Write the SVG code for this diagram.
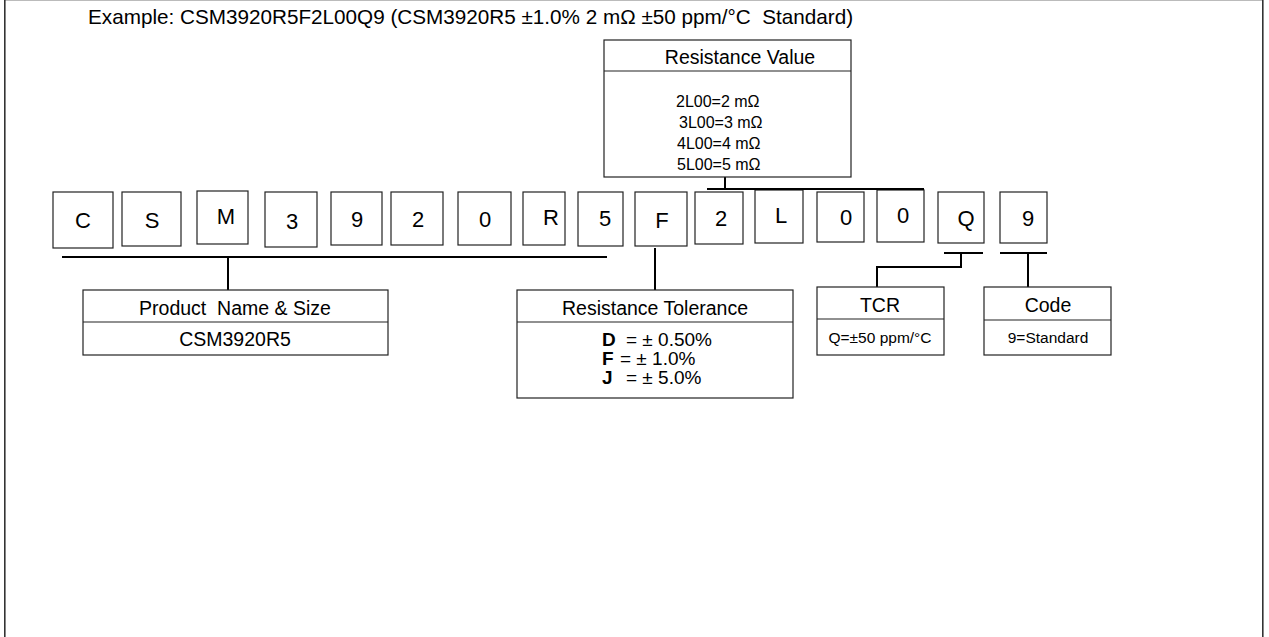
<svg xmlns="http://www.w3.org/2000/svg" width="1269" height="637" viewBox="0 0 1269 637">
<style>
.bx{fill:#fff;stroke:#222;stroke-width:1.2}
.ln{stroke:#000;stroke-width:2;fill:none}
.fr{stroke:#333;stroke-width:1.6}
.t{font-family:"Liberation Sans",Arial,sans-serif;fill:#000}
.ch{font-size:22px;text-anchor:middle}
.hd{font-size:19.5px;text-anchor:middle}
.sm{font-size:16px}
.xs{font-size:15.5px;text-anchor:middle}
</style>
<rect x="0" y="0" width="1269" height="637" fill="#fff"/>
<g id="frame">
<line x1="4" y1="0.5" x2="1263" y2="0.5" stroke="#bbb" stroke-width="1"/>
<line class="fr" x1="4.8" y1="0" x2="4.8" y2="637"/>
<line class="fr" x1="1262.8" y1="0" x2="1262.8" y2="637"/>
</g>
<text class="t" x="88" y="24" font-size="20.7" xml:space="preserve">Example: CSM3920R5F2L00Q9 (CSM3920R5 ±1.0% 2 mΩ ±50 ppm/°C  Standard)</text>
<g id="chars">
<g id="c1"><rect class="bx" x="53" y="192" width="60" height="56"/><text class="t ch" x="83" y="228">C</text></g>
<g id="c2"><rect class="bx" x="122" y="192" width="59" height="54"/><text class="t ch" x="152" y="228">S</text></g>
<g id="c3"><rect class="bx" x="197" y="191" width="51" height="53"/><text class="t ch" x="226" y="224">M</text></g>
<g id="c4"><rect class="bx" x="265" y="192" width="52" height="55"/><text class="t ch" x="292" y="229">3</text></g>
<g id="c5"><rect class="bx" x="331" y="192" width="51" height="53"/><text class="t ch" x="357" y="227">9</text></g>
<g id="c6"><rect class="bx" x="391" y="192" width="52" height="53"/><text class="t ch" x="418" y="227">2</text></g>
<g id="c7"><rect class="bx" x="458" y="192" width="53" height="53"/><text class="t ch" x="485" y="227">0</text></g>
<g id="c8"><rect class="bx" x="523" y="192" width="42" height="53"/><text class="t ch" x="551" y="225">R</text></g>
<g id="c9"><rect class="bx" x="578" y="192" width="45" height="54"/><text class="t ch" x="605" y="226">5</text></g>
<g id="c10"><rect class="bx" x="635" y="192" width="52" height="54"/><text class="t ch" x="662" y="228">F</text></g>
<g id="c11"><rect class="bx" x="695" y="192" width="48" height="52"/><text class="t ch" x="721" y="226">2</text></g>
<g id="c12"><rect class="bx" x="755" y="190" width="48" height="53"/><text class="t ch" x="781" y="223">L</text></g>
<g id="c13"><rect class="bx" x="817" y="192" width="47" height="50"/><text class="t ch" x="846" y="225">0</text></g>
<g id="c14"><rect class="bx" x="877" y="190" width="47" height="52"/><text class="t ch" x="903" y="223">0</text></g>
<g id="c15"><rect class="bx" x="938" y="192" width="46" height="51"/><text class="t ch" x="966" y="226">Q</text></g>
<g id="c16"><rect class="bx" x="1000" y="192" width="47" height="51"/><text class="t ch" x="1028" y="226">9</text></g>
</g>
<g id="connectors">
<line class="ln" x1="62" y1="257" x2="607" y2="257"/>
<line class="ln" x1="228" y1="257" x2="228" y2="290"/>
<line class="ln" x1="725" y1="177" x2="725" y2="189"/>
<line class="ln" x1="707" y1="189" x2="924" y2="189"/>
<line class="ln" x1="655" y1="248" x2="655" y2="290"/>
<line class="ln" x1="944" y1="253" x2="983" y2="253"/>
<polyline class="ln" points="961,253 961,267 877,267 877,287"/>
<line class="ln" x1="1000" y1="253" x2="1047" y2="253"/>
<line class="ln" x1="1028" y1="253" x2="1028" y2="287"/>
</g>
<g id="resistance-value">
<rect class="bx" x="604" y="40" width="247" height="137"/>
<line class="bx" x1="604" y1="71" x2="851" y2="71"/>
<text class="t hd" x="740" y="64">Resistance Value</text>
<text class="t sm" x="676" y="107">2L00=2 mΩ</text>
<text class="t sm" x="679" y="128">3L00=3 mΩ</text>
<text class="t sm" x="677" y="149">4L00=4 mΩ</text>
<text class="t sm" x="677" y="170">5L00=5 mΩ</text>
</g>
<g id="product">
<rect class="bx" x="83" y="290" width="305" height="65"/>
<line class="bx" x1="83" y1="322" x2="388" y2="322"/>
<text class="t hd" x="235" y="315" xml:space="preserve">Product  Name &amp; Size</text>
<text class="t hd" x="235" y="346">CSM3920R5</text>
</g>
<g id="tolerance">
<rect class="bx" x="517" y="290" width="276" height="108"/>
<line class="bx" x1="517" y1="322" x2="793" y2="322"/>
<text class="t hd" x="655" y="315">Resistance Tolerance</text>
<text class="t" font-size="19" y="346"><tspan x="602" font-weight="bold">D</tspan><tspan x="626">= ± 0.50%</tspan></text>
<text class="t" font-size="19" y="365"><tspan x="602" font-weight="bold">F</tspan><tspan x="620">= ± 1.0%</tspan></text>
<text class="t" font-size="19" y="384"><tspan x="602" font-weight="bold">J</tspan><tspan x="626">= ± 5.0%</tspan></text>
</g>
<g id="tcr">
<rect class="bx" x="817" y="287" width="127" height="68"/>
<line class="bx" x1="817" y1="319" x2="944" y2="319"/>
<text class="t hd" x="880" y="312">TCR</text>
<text class="t xs" x="880" y="343">Q=±50 ppm/°C</text>
</g>
<g id="code">
<rect class="bx" x="984" y="287" width="127" height="68"/>
<line class="bx" x1="984" y1="320" x2="1111" y2="320"/>
<text class="t hd" x="1048" y="312">Code</text>
<text class="t xs" x="1048" y="343">9=Standard</text>
</g>
</svg>
